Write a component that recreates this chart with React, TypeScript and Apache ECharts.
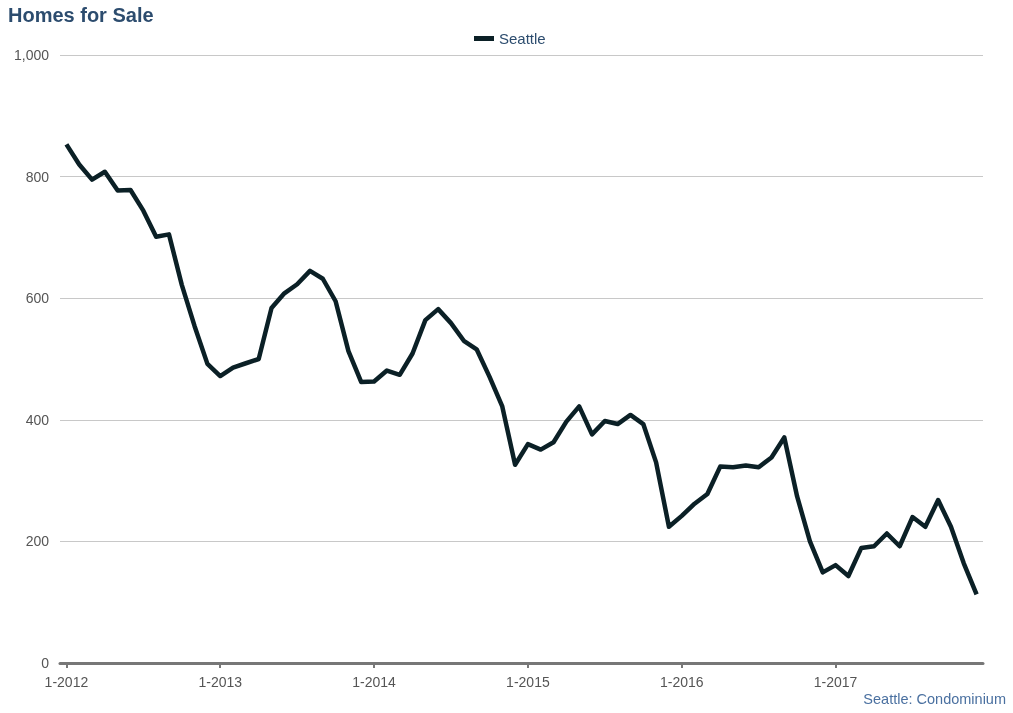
import React, { useEffect, useRef } from "react";
import * as echarts from "echarts";

const years = [2012, 2013, 2014, 2015, 2016, 2017];
const months = [1, 2, 3, 4, 5, 6, 7, 8, 9, 10, 11, 12];
const categories: string[] = [];
years.forEach((y) => months.forEach((m) => categories.push(`${m}-${y}`)));

const seattle = [
  853, 820, 795, 808, 777, 778, 744, 701, 705, 622, 554, 492,
  472, 486, 493, 500, 584, 608, 623, 645, 632, 595, 513, 462,
  463, 481, 474, 509, 564, 582, 559, 530, 516, 471, 422, 326,
  360, 351, 363, 397, 422, 376, 398, 393, 408, 393, 330, 224,
  242, 262, 278, 323, 322, 325, 322, 338, 371, 274, 200, 149,
  161, 143, 189, 192, 213, 192, 240, 224, 268, 224, 164, 113,
];

const yTicks = [0, 200, 400, 600, 800, 1000];

const FONT = "Liberation Sans, Arial, Helvetica, sans-serif";

export default function App() {
  const ref = useRef<HTMLDivElement>(null);
  useEffect(() => {
    if (!ref.current) return;
    const chart = echarts.init(ref.current, undefined, { renderer: "svg" });
    chart.setOption({
      animation: false,
      textStyle: { fontFamily: FONT },
      title: [
        {
          text: "Homes for Sale",
          left: 3,
          top: 0,
          textStyle: { fontSize: 20, fontWeight: "bold", color: "#2c4c6e", fontFamily: FONT },
        },
        {
          text: "Seattle: Condominium",
          right: 2,
          top: 686,
          textStyle: { fontSize: 14.5, fontWeight: "normal", color: "#4a70a0", fontFamily: FONT },
        },
      ],
      legend: {
        top: 26,
        left: 469,
        icon: "rect",
        itemWidth: 20,
        itemHeight: 5,
        itemGap: 8,
        textStyle: { fontSize: 15, color: "#2c4c6e", fontFamily: FONT },
        data: ["Seattle"],
      },
      grid: { left: 60, right: 30, top: 55, bottom: 50, containLabel: false },
      xAxis: {
        type: "category",
        data: categories,
        boundaryGap: true,
        axisLine: { lineStyle: { color: "#777", width: 3 } },
        axisTick: { show: true, alignWithLabel: true, interval: 11, length: 5, lineStyle: { color: "#777", width: 2 } },
        axisLabel: { interval: 11, color: "#555", fontSize: 14, margin: 12, fontFamily: FONT },
        splitLine: { show: false },
      },
      yAxis: {
        type: "value",
        min: yTicks[0],
        max: yTicks[yTicks.length - 1],
        interval: 200,
        axisLine: { show: false },
        axisTick: { show: false },
        axisLabel: {
          color: "#555",
          fontSize: 14,
          margin: 11,
          fontFamily: FONT,
          formatter: (v: number) => v.toLocaleString("en-US"),
        },
        splitLine: { lineStyle: { color: "#c8c8c8", width: 1 } },
      },
      series: [
        {
          name: "Seattle",
          type: "line",
          data: seattle,
          showSymbol: false,
          symbol: "none",
          lineStyle: { color: "#0b2026", width: 4.5, join: "round" },
          itemStyle: { color: "#0b2026" },
        },
      ],
    });
    return () => chart.dispose();
  }, []);
  return (
    <div
      ref={ref}
      style={{ position: "fixed", left: 0, top: 0, width: 1013, height: 713 }}
    />
  );
}
